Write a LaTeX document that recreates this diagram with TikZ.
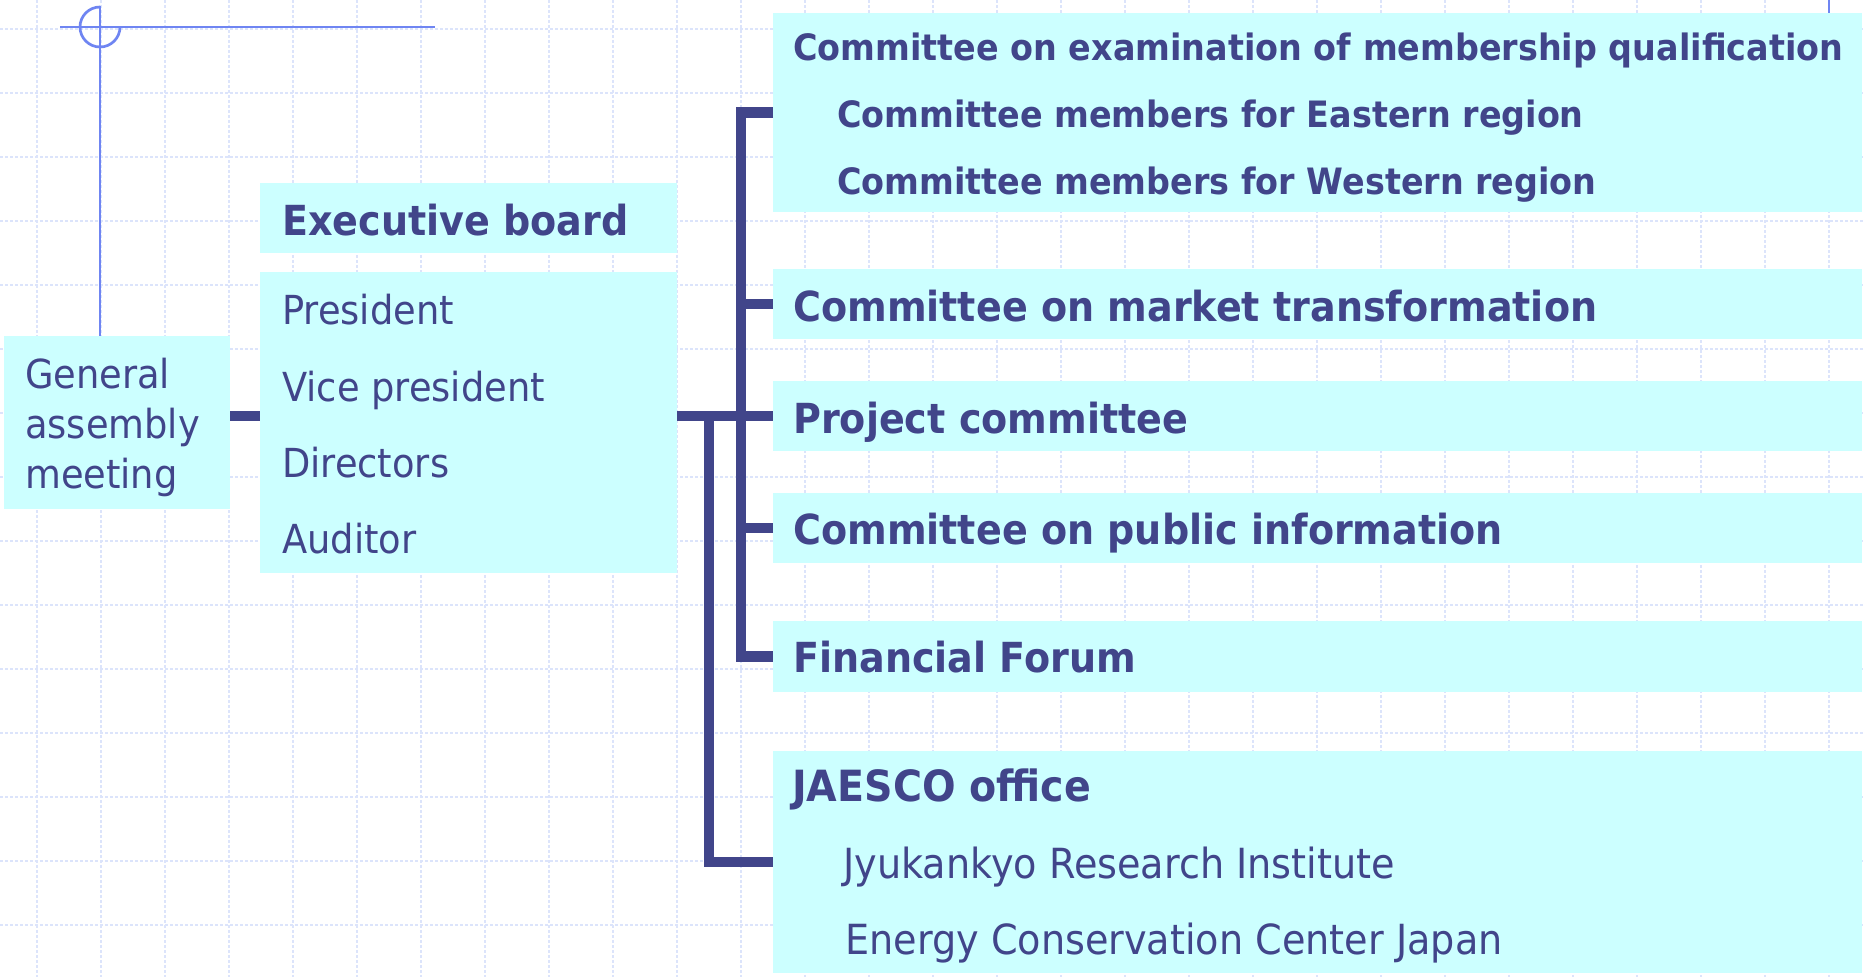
\documentclass[tikz,border=0pt]{standalone}
\usepackage{fontspec}
\setmainfont{DejaVu Sans}[FakeStretch=0.92]
\definecolor{ink}{RGB}{65,69,138}
\definecolor{cyanbox}{RGB}{204,255,255}
\definecolor{decoblue}{RGB}{111,133,242}
\definecolor{gridblue}{RGB}{220,228,251}
\newcommand\headfont{\bfseries\fontsize{41.4}{41.4}\selectfont}
\newcommand\subheadfont{\bfseries\fontsize{36.3}{36.3}\selectfont}
\newcommand\officefont{\bfseries\fontsize{43}{43}\selectfont}
\newcommand\plainfont{\fontsize{40}{50}\selectfont}
\newcommand\officeplainfont{\fontsize{41.5}{50}\selectfont}

\begin{document}
\begin{tikzpicture}[x=1pt, y=-1pt,
  box/.style={fill=cyanbox, draw=none, inner sep=0pt, outer sep=0pt, anchor=north west},
  txt/.style={anchor=base west, inner sep=0pt, text=ink},
  conn/.style={draw=ink, line width=10.5pt},
  deco/.style={draw=decoblue, line width=2.7pt},
  gridline/.style={draw=gridblue, line width=2.2pt, dash pattern=on 3pt off 2pt}]
  \useasboundingbox[fill=white] (0,0) rectangle (1865,977);
  % paper grid
  \foreach \gx in {0,...,28}
    \draw[gridline] ({36.7+64*\gx},0) -- ({36.7+64*\gx},977);
  \foreach \gy in {0,...,14}
    \draw[gridline] (0,{28.7+64*\gy}) -- (1865,{28.7+64*\gy});
  % corner mark
  \draw[deco] (60,27) -- (435,27);
  \draw[deco] (100,6) -- (100,336);
  \draw[deco] (100,7) arc[start angle=90, end angle=360, radius=20pt];
  \draw[deco] (1829,0) -- (1829,13);

  % boxes
  \node[box, minimum width=226pt, minimum height=173pt] (ga) at (4,336) {};
  \node[box, minimum width=417pt, minimum height=70pt] (exh) at (260,183) {};
  \node[box, minimum width=417pt, minimum height=301pt] (exm) at (260,272) {};
  \node[box, minimum width=1089pt, minimum height=199pt] (exam) at (773,13) {};
  \node[box, minimum width=1089pt, minimum height=70pt] (mkt) at (773,269) {};
  \node[box, minimum width=1089pt, minimum height=70pt] (proj) at (773,381) {};
  \node[box, minimum width=1089pt, minimum height=70pt] (pub) at (773,493) {};
  \node[box, minimum width=1089pt, minimum height=71pt] (fin) at (773,621) {};
  \node[box, minimum width=1089pt, minimum height=222pt] (jae) at (773,751) {};

  % connectors
  \draw[conn] (ga.east |- proj.west) -- (exm.west |- proj.west);
  \draw[conn] (exm.east |- proj.west) -- (proj.west);
  \draw[conn] (exam.west) -- ++(-32,0) |- (fin.west);
  \draw[conn] (mkt.west) -- ++(-32,0);
  \draw[conn] (pub.west) -- ++(-32,0);
  \draw[conn] (proj.west) ++(-64,0) |- (jae.west);

  % texts
  \node[txt, font=\plainfont] (ga1) at (25,388) {General};
  \node[txt, font=\plainfont] (ga2) at (25,438) {assembly};
  \node[txt, font=\plainfont] (ga3) at (25,488) {meeting};
  \node[txt, font=\headfont] (exh1) at (282,235) {Executive board};
  \node[txt, font=\plainfont] (exm1) at (282,324) {President};
  \node[txt, font=\plainfont] (exm2) at (282,401) {Vice president};
  \node[txt, font=\plainfont] (exm3) at (282,477) {Directors};
  \node[txt, font=\plainfont] (exm4) at (282,553) {Auditor};
  \node[txt, font=\subheadfont] (exam1) at (793,60) {Committee on examination of membership qualification};
  \node[txt, font=\subheadfont] (exam2) at (837,127) {Committee members for Eastern region};
  \node[txt, font=\subheadfont] (exam3) at (837,194) {Committee members for Western region};
  \node[txt, font=\headfont] (mkt1) at (793,321) {Committee on market transformation};
  \node[txt, font=\headfont] (proj1) at (793,433) {Project committee};
  \node[txt, font=\headfont] (pub1) at (793,544) {Committee on public information};
  \node[txt, font=\headfont] (fin1) at (793,672) {Financial Forum};
  \node[txt, font=\officefont] (jae1) at (792,801) {JAESCO office};
  \node[txt, font=\officeplainfont] (jae2) at (843,878) {Jyukankyo Research Institute};
  \node[txt, font=\officeplainfont] (jae3) at (845,954) {Energy Conservation Center Japan};
\end{tikzpicture}
\end{document}
